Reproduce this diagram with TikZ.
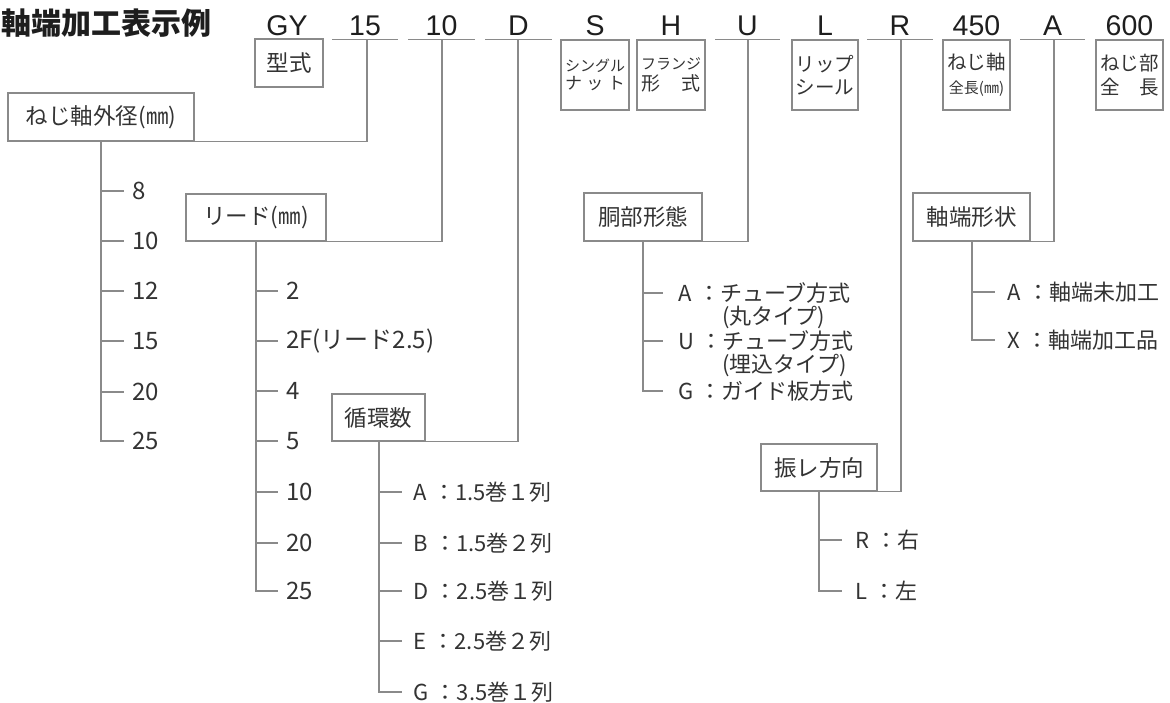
\documentclass[tikz,border=0pt]{standalone}
\usepackage{fontspec}
\setmainfont{Noto Sans CJK JP}
\newfontfamily\codefont{Liberation Sans}
\newcommand\fs[1]{\fontsize{#1}{#1}\selectfont}
\newcommand\sep{\hspace{0.3em}}
\definecolor{linegray}{HTML}{8A8A8A}
\definecolor{txt}{HTML}{333333}
\definecolor{codec}{HTML}{1E1E1E}
\tikzset{
  ln/.style={draw=linegray, line width=1.2pt},
  box/.style={draw=linegray, line width=1.2pt, inner sep=0pt, text=txt, font=\fs{22.5}, align=center},
  tbox/.style={box, minimum height=70pt, font=\fs{19.5}, align=center},
  code/.style={font=\codefont\fs{28.5}, text=codec, anchor=base, inner sep=0pt},
  item/.style={anchor=west, inner sep=0pt, text=txt, font=\fs{22}},
  num/.style={item, font=\fs{24}},
}
\begin{document}
\begin{tikzpicture}[x=1pt,y=-1pt]
\useasboundingbox (0,0) rectangle (1170,702);
% title
\node[anchor=base west, inner sep=0pt, text=codec, font=\bfseries\fs{30}] (title) at (1,34) {軸端加工表示例};
% codes
\node[code] (cGY) at (287,35) {GY};
\node[code] (c15) at (365,35) {15};
\node[code] (c10) at (441.5,35) {10};
\node[code] (cD) at (518.5,35) {D};
\node[code] (cS) at (595,35) {S};
\node[code] (cH) at (671,35) {H};
\node[code] (cU) at (747.5,35) {U};
\node[code] (cL) at (825,35) {L};
\node[code] (cR) at (900,35) {R};
\node[code] (c450) at (976.5,35) {450};
\node[code] (cA) at (1052.5,35) {A};
\node[code] (c600) at (1129.5,35) {600};
% underlines
\draw[ln] (332,39.5) -- (398,39.5);
\draw[ln] (408,39.5) -- (475,39.5);
\draw[ln] (485,39.5) -- (552,39.5);
\draw[ln] (715,39.5) -- (780,39.5);
\draw[ln] (867,39.5) -- (933,39.5);
\draw[ln] (1020,39.5) -- (1085,39.5);
\coordinate (t15) at (367,39.5);
\coordinate (t10) at (442,39.5);
\coordinate (tD) at (518,39.5);
\coordinate (tU) at (748,39.5);
\coordinate (tR) at (901,39.5);
\coordinate (tA) at (1054,39.5);
% top boxes
\node[box, minimum width=68pt, minimum height=48pt] (kata) at (289,63) {型式};
\node[tbox, minimum width=68pt, font=\fs{15}] (bS) at (595,75) {シングル\\[3pt]\makebox[60pt][s]{\fs{17}ナ\hfill ッ\hfill ト}};
\node[tbox, minimum width=68pt, font=\fs{15}] (bH) at (671,75) {フランジ\\[3pt]\makebox[60pt][s]{\fs{19}形\hfill 式}};
\node[tbox, minimum width=66pt] (bL) at (825,75) {リップ\\[4pt]シール};
\node[tbox, minimum width=67pt] (b450) at (976.5,75) {ねじ軸\\[4pt]{\fs{15}全長(㎜)}};
\node[tbox, minimum width=67pt] (b600) at (1129.5,75) {ねじ部\\[4pt]\makebox[58pt][s]{全\hfill 長}};
% category boxes
\node[box, minimum width=186pt, minimum height=48pt] (dia) at (101,117) {ねじ軸外径(㎜)};
\node[box, minimum width=140pt, minimum height=47pt] (lead) at (256,217.5) {リード(㎜)};
\node[box, minimum width=93pt, minimum height=47pt] (circ) at (378.5,417.5) {循環数};
\node[box, minimum width=118pt, minimum height=48pt] (body) at (643,217) {胴部形態};
\node[box, minimum width=117pt, minimum height=48pt] (shaft) at (971.5,217) {軸端形状};
\node[box, minimum width=116pt, minimum height=47pt] (furi) at (819,467.5) {振レ方向};
% connectors to codes
\draw[ln] (dia.south east) -| (t15);
\draw[ln] (lead.south east) -| (t10);
\draw[ln] (circ.south east) -| (tD);
\draw[ln] (body.south east) -| (tU);
\draw[ln] (furi.south east) -| (tR);
\draw[ln] (shaft.south east) -| (tA);
% dia list
\foreach \n/\y/\t in {d1/191/8, d2/241/10, d3/291/12, d4/341/15, d5/392/20, d6/441/25}
  \node[num] (\n) at (132,\y) {\t};
\draw[ln] (dia.south) |- ([xshift=-8pt]d6.west);
\foreach \n in {d1,d2,d3,d4,d5}
  \draw[ln] (dia.south |- \n.west) -- ([xshift=-8pt]\n.west);
% lead list
\foreach \n/\y/\t in {l1/291/2, l2/341/2F(リード2.5), l3/391/4, l4/441/5, l5/492/10, l6/543/20, l7/591/25}
  \node[num] (\n) at (286,\y) {\t};
\draw[ln] (lead.south) |- ([xshift=-8pt]l7.west);
\foreach \n in {l1,l2,l3,l4,l5,l6}
  \draw[ln] (lead.south |- \n.west) -- ([xshift=-8pt]\n.west);
% circ list
\foreach \n/\y/\t in {r1/492/A\sep：1.5巻１列, r2/543/B\sep：1.5巻２列, r3/591/D\sep：2.5巻１列, r4/641/E\sep：2.5巻２列, r5/692/G\sep：3.5巻１列}
  \node[item] (\n) at (413,\y) {\t};
\draw[ln] ([xshift=0.5pt]circ.south) |- ([xshift=-11pt]r5.west);
\foreach \n in {r1,r2,r3,r4}
  \draw[ln] ([xshift=0.5pt]circ.south |- \n.west) -- ([xshift=-11pt]\n.west);
% body list
\node[item] (o1) at (678,293) {A\sep：チューブ方式};
\node[item] (o1b) at (722,317) {(丸タイプ)};
\node[item] (o2) at (678,341) {U\sep：チューブ方式};
\node[item] (o2b) at (722,366) {(埋込タイプ)};
\node[item] (o3) at (678,391) {G\sep：ガイド板方式};
\draw[ln] (body.south) |- ([xshift=-15pt]o3.west);
\foreach \n in {o1,o2}
  \draw[ln] (body.south |- \n.west) -- ([xshift=-15pt]\n.west);
% shaft list
\node[item] (s1) at (1007,292) {A\sep：軸端未加工};
\node[item] (s2) at (1007,340) {X\sep：軸端加工品};
\draw[ln] ([xshift=0.5pt]shaft.south) |- ([xshift=-12pt]s2.west);
\draw[ln] ([xshift=0.5pt]shaft.south |- s1.west) -- ([xshift=-12pt]s1.west);
% furi list
\node[item] (f1) at (855,540) {R\sep：右};
\node[item] (f2) at (855,591) {L\sep：左};
\draw[ln] (furi.south) |- ([xshift=-13pt]f2.west);
\draw[ln] (furi.south |- f1.west) -- ([xshift=-13pt]f1.west);
\end{tikzpicture}
\end{document}
